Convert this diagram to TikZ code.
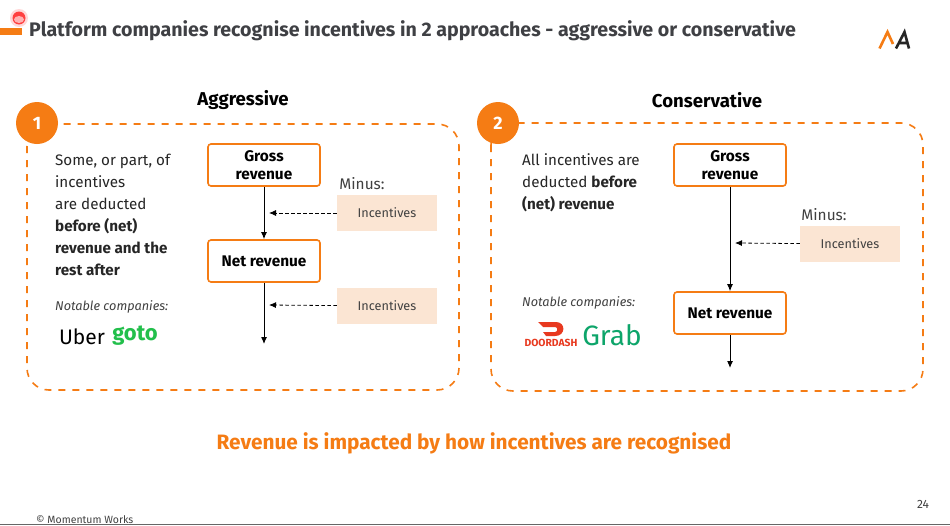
\documentclass[tikz,border=0pt]{standalone}
\usepackage{fontspec}
\setmainfont{Fira Sans}
\usetikzlibrary{arrows.meta}
\definecolor{mworange}{HTML}{F57C14}
\definecolor{mwpeach}{HTML}{FBE5D3}
\definecolor{mwtitle}{HTML}{3F4044}
\definecolor{mwgrey}{HTML}{404040}
\definecolor{gotogreen}{HTML}{22BF4B}
\definecolor{grabgreen}{HTML}{0DA56A}
\definecolor{dashred}{HTML}{E8391F}
\tikzset{
  panel/.style={draw=mworange,line width=1.6pt,dash pattern=on 7pt off 7pt,rounded corners=22pt},
  numdot/.style={circle,fill=mworange,minimum size=42pt,inner sep=0pt,text=white,font=\fontsize{18}{18}\selectfont\bfseries},
  headtext/.style={font=\fontsize{18.6}{20}\selectfont\bfseries,text=black},
  revbox/.style={draw=mworange,line width=1.6pt,rounded corners=3pt,fill=white,minimum width=112pt,minimum height=42pt,inner sep=0pt,align=center,font=\fontsize{15.4}{18.5}\selectfont\bfseries,text=black},
  minusbox/.style={fill=mwpeach,minimum width=100pt,minimum height=36pt,inner sep=0pt,font=\fontsize{12.7}{15}\selectfont,text=mwgrey},
  minustext/.style={inner sep=0pt,font=\fontsize{15.4}{16}\selectfont,text=mwgrey},
  bodytext/.style={anchor=north west,inner sep=0pt,align=left,font=\fontsize{15.2}{22}\selectfont,text=black!85},
  notetext/.style={anchor=west,inner sep=0pt,font=\fontsize{12.7}{14}\selectfont\itshape,text=mwgrey},
  flow/.style={draw=black,line width=1pt,-{Latex[length=7pt,width=6pt]}},
  minusflow/.style={draw=black,line width=0.8pt,dash pattern=on 3.5pt off 2.5pt,-{Latex[length=7pt,width=6pt]}}
}
\begin{document}
\begin{tikzpicture}[x=1pt,y=-1pt]
  \useasboundingbox (0,0) rectangle (950,525);
  \fill[white] (0,0) rectangle (950,525);
  % title strip
  \fill[mworange] (0,28) rectangle (22,35);
  \fill[red!30,opacity=0.5] (19,18) circle (9);
  \fill[red!75] (19,18) circle (6.5);
  \fill[red!30] (19,19.5) ellipse (5 and 3.5);
  \node[anchor=west,inner sep=0pt,text=mwtitle,font=\fontsize{19.6}{22}\selectfont\bfseries] (title) at (29,31)
    {Platform companies recognise incentives in 2 approaches - aggressive or conservative};
  % logo
  \draw[mworange,line width=2.6pt] (879.5,48.5) -- (887.5,32) -- (893,44);
  \draw[black!85,line width=2.6pt] (896,48.5) -- (904.5,32) -- (909,48.5) (899,43) -- (908,43);
  % panels
  \draw[panel] (27,124) rectangle (459,390);
  \draw[panel] (491,123) rectangle (923,391);
  \node[numdot] (n1) at (37,123) {1};
  \node[numdot] (n2) at (498,123) {2};
  \node[headtext] (aggr) at (243,100.5) {Aggressive};
  \node[headtext] (cons) at (707,100.5) {Conservative};
  % left panel
  \node[bodytext] (ltext) at (55,153.5) {Some, or part, of\\incentives\\are deducted\\\textbf{before (net)}\\\textbf{revenue and the}\\\textbf{rest after}};
  \node[revbox] (lgross) at (264,165) {Gross\\revenue};
  \node[revbox] (lnet) at (264,261) {Net revenue};
  \node[minusbox] (linc1) at (387,213) {Incentives};
  \node[minusbox] (linc2) at (387,306) {Incentives};
  \node[minustext] (lminus) at (362,184) {Minus:};
  \node[notetext] (lnote) at (55,307) {Notable companies:};
  \node[inner sep=0pt,font=\fontsize{21}{24}\selectfont,text=black] (uber) at (82,337) {Uber};
  \node[inner sep=0pt,font=\fontsize{22}{24}\selectfont\bfseries,text=gotogreen] (goto) at (135,336) {goto};
  \coordinate (lend) at (264,344);
  \coordinate (lhit1) at (269,213);
  \coordinate (lhit2) at (269,305);
  \draw[flow] (lgross) -- (lnet);
  \draw[flow] (lnet) -- (lend);
  \draw[minusflow] (linc1) -- (lhit1);
  \draw[minusflow] (linc2) -- (lhit2);
  % right panel
  \node[bodytext] (rtext) at (522,153.5) {All incentives are\\deducted \textbf{before}\\\textbf{(net) revenue}};
  \node[revbox] (rgross) at (730,165) {Gross\\revenue};
  \node[revbox] (rnet) at (730,313) {Net revenue};
  \node[minusbox] (rinc) at (850,244) {Incentives};
  \node[minustext] (rminus) at (824,215) {Minus:};
  \node[notetext] (rnote) at (522,303) {Notable companies:};
  \fill[dashred] (538,322) -- (556,322) .. controls (566,322) and (566,336) .. (555,336) -- (546,336) -- (543,332) -- (555,332) .. controls (558,332) and (558,327) .. (555,327) -- (543,327) -- cycle;
  \node[inner sep=0pt,font=\fontsize{10.3}{11}\selectfont\bfseries,text=dashred] (dash) at (551,343) {DOORDASH};
  \node[inner sep=0pt,font=\fontsize{28}{28}\selectfont,text=grabgreen] (grab) at (612,335) {Grab};
  \coordinate (rend) at (730,368);
  \coordinate (rhit) at (735,243);
  \draw[flow] (rgross) -- (rnet);
  \draw[flow] (rnet) -- (rend);
  \draw[minusflow] (rinc) -- (rhit);
  % bottom
  \node[inner sep=0pt,text=mworange,font=\fontsize{20.8}{22}\selectfont\bfseries] (takeaway) at (474,443) {Revenue is impacted by how incentives are recognised};
  \node[inner sep=0pt,font=\fontsize{12}{14}\selectfont,text=mwgrey] (page) at (923,504) {24};
  \node[anchor=west,inner sep=0pt,font=\fontsize{10.5}{12}\selectfont,text=mwgrey] (foot) at (36,520) {© Momentum Works};
  \draw[black!60,line width=1pt] (0,524.5) -- (950,524.5);
\end{tikzpicture}
\end{document}
